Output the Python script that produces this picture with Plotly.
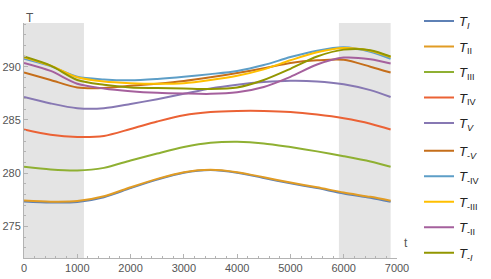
import plotly.graph_objects as go

# ---- data ----
t = [0, 500, 1000, 1500, 2000, 2500, 3000, 3500, 4000, 4500, 5000, 5500, 6000, 6500, 6880]

T_I    = [277.35, 277.25, 277.30, 277.75, 278.60, 279.40, 280.05, 280.30, 280.05, 279.55, 279.05, 278.60, 278.10, 277.70, 277.32]
T_II   = [277.43, 277.33, 277.38, 277.83, 278.68, 279.47, 280.10, 280.33, 280.10, 279.62, 279.12, 278.68, 278.18, 277.78, 277.42]
T_III  = [280.60, 280.35, 280.25, 280.50, 281.20, 281.85, 282.45, 282.85, 282.95, 282.80, 282.45, 282.05, 281.60, 281.10, 280.60]
T_IV   = [284.10, 283.60, 283.40, 283.50, 284.15, 284.85, 285.45, 285.75, 285.85, 285.85, 285.75, 285.50, 285.15, 284.65, 284.10]
T_V    = [287.15, 286.55, 286.10, 286.10, 286.50, 286.95, 287.45, 287.95, 288.30, 288.55, 288.68, 288.62, 288.35, 287.80, 287.15]
T_mV   = [289.45, 288.75, 288.05, 288.00, 288.20, 288.40, 288.65, 289.00, 289.40, 289.85, 290.35, 290.60, 290.65, 290.00, 289.45]
T_mIV  = [290.75, 290.05, 289.05, 288.80, 288.72, 288.85, 289.05, 289.30, 289.60, 290.15, 290.90, 291.50, 291.82, 291.40, 290.75]
T_mIII = [290.90, 290.10, 289.00, 288.60, 288.45, 288.40, 288.45, 288.75, 289.15, 289.75, 290.60, 291.35, 291.75, 291.50, 290.90]
T_mII  = [290.35, 289.60, 288.40, 287.95, 287.70, 287.55, 287.48, 287.45, 287.60, 288.10, 289.05, 290.20, 290.85, 290.70, 290.30]
T_mI   = [290.95, 290.10, 288.75, 288.30, 288.05, 288.00, 287.95, 287.90, 288.05, 288.75, 289.80, 290.95, 291.60, 291.55, 290.95]

series_names = [
    "<i>T</i><sub><i>I</i></sub>",
    "<i>T</i><sub>II</sub>",
    "<i>T</i><sub>III</sub>",
    "<i>T</i><sub>IV</sub>",
    "<i>T</i><sub><i>V</i></sub>",
    "<i>T</i><sub>-<i>V</i></sub>",
    "<i>T</i><sub>-IV</sub>",
    "<i>T</i><sub>-III</sub>",
    "<i>T</i><sub>-II</sub>",
    "<i>T</i><sub>-<i>I</i></sub>",
]
series_values = [T_I, T_II, T_III, T_IV, T_V, T_mV, T_mIV, T_mIII, T_mII, T_mI]
colors = ["#5E81B5", "#E19C24", "#8FB032", "#EB6235", "#8778B3",
          "#C56E1A", "#5D9EC7", "#FFBF00", "#A5609D", "#929600"]

# shaded intervals
shade_starts = [0, 5910]
shade_ends = [1125, 6880]

x_ticks = [0, 1000, 2000, 3000, 4000, 5000, 6000, 7000]
y_ticks = [275, 280, 285, 290]

fig = go.Figure()
for i, (name, vals, col) in enumerate(zip(series_names, series_values, colors)):
    fig.add_trace(go.Scatter(
        x=t, y=vals, mode="lines", name=name,
        line=dict(color=col, width=2, shape="spline", smoothing=0.8),
        legendgroup=f"g{i}",
        legend="legend" if i < 5 else "legend2",
    ))

for s, e in zip(shade_starts, shade_ends):
    fig.add_shape(type="rect", xref="x", yref="paper", x0=s, x1=e, y0=0, y1=1,
                  fillcolor="#e4e4e4", line=dict(width=0), layer="below")

axis_col = "#b3b3b3"
tick_font = dict(family="Liberation Sans, Arial, sans-serif", size=11, color="#555555")

fig.update_xaxes(
    range=[0, 7000], tickvals=x_ticks, ticktext=[str(v) for v in x_ticks],
    showline=True, linecolor=axis_col, linewidth=1,
    ticks="inside", ticklen=4, tickcolor=axis_col,
    minor=dict(dtick=200, ticks="inside", ticklen=2, tickcolor=axis_col),
    showgrid=False, zeroline=False, tickfont=tick_font, automargin=False,
)
fig.update_yaxes(
    range=[272.04, 294.1], tickvals=y_ticks, ticktext=[str(v) for v in y_ticks],
    showline=True, linecolor=axis_col, linewidth=1,
    ticks="inside", ticklen=4, tickcolor=axis_col,
    minor=dict(dtick=1, ticks="inside", ticklen=2, tickcolor=axis_col),
    showgrid=False, zeroline=False, tickfont=tick_font, automargin=False,
)

fig.add_annotation(xref="paper", yref="paper", x=0, y=1, yshift=14, text="T",
                   showarrow=False, font=dict(family="Liberation Sans, Arial", size=12, color="#555555"))
fig.add_annotation(xref="paper", yref="paper", x=1, y=0, xshift=13, yshift=6, text="t",
                   showarrow=False, font=dict(family="Liberation Sans, Arial", size=12, color="#555555"))

legend_font = dict(family="Liberation Sans, Arial", size=13, color="#222222")
fig.update_layout(
    width=491, height=279,
    margin=dict(l=24, r=94, t=23, b=21, autoexpand=False),
    plot_bgcolor="white", paper_bgcolor="white",
    showlegend=True,
    legend=dict(x=419 / 491, xref="container", xanchor="left",
                y=0.978, yref="container", yanchor="top",
                tracegroupgap=5.6, bgcolor="rgba(255,255,255,0)", font=legend_font),
    legend2=dict(x=419 / 491, xref="container", xanchor="left",
                 y=0.513, yref="container", yanchor="top",
                 tracegroupgap=5.6, bgcolor="rgba(255,255,255,0)", font=legend_font),
)

fig.write_html("out.html", config={"staticPlot": True},
               post_script="document.body.style.margin='0';")
